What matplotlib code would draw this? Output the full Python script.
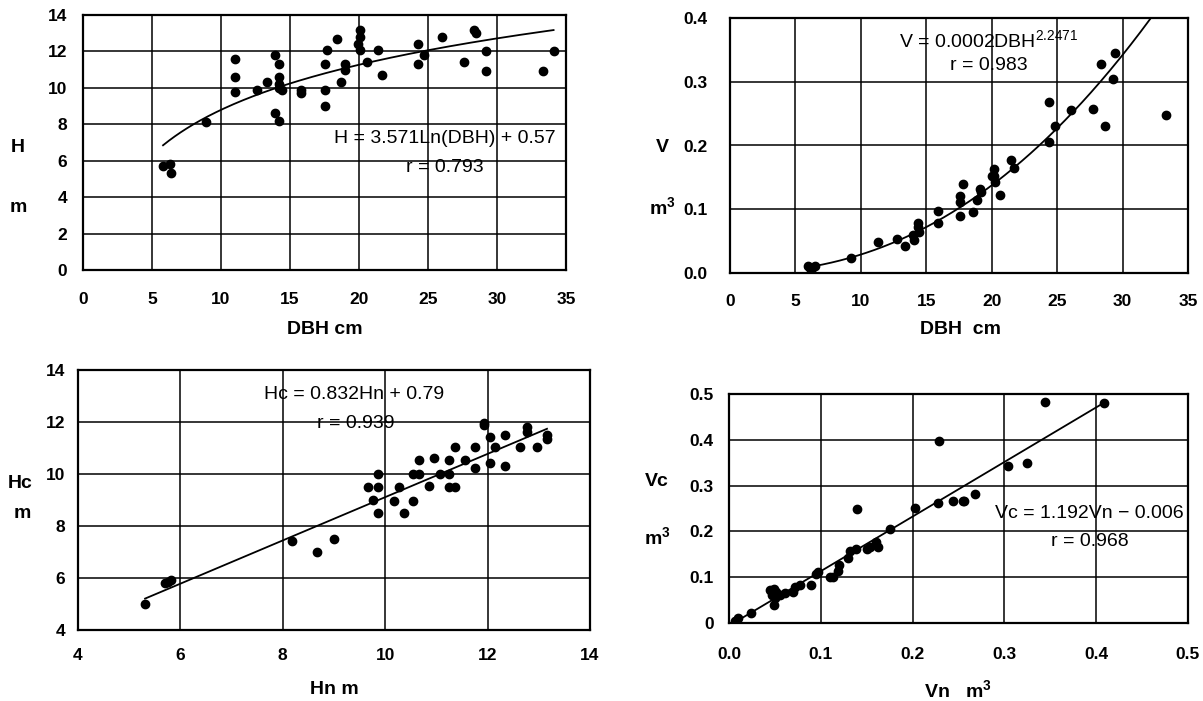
import numpy as np
import matplotlib
matplotlib.use("Agg")
import matplotlib.pyplot as plt

plt.rcParams['font.family'] = ['Liberation Sans', 'DejaVu Sans']
plt.rcParams['mathtext.fontset'] = 'custom'
plt.rcParams['mathtext.rm'] = 'Liberation Sans'
plt.rcParams['mathtext.it'] = 'Liberation Sans:italic'
plt.rcParams['mathtext.bf'] = 'Liberation Sans:bold'

# ---------------- data ----------------
# Panel 1: H vs DBH
dbh1 = [5.8, 6.3, 6.4, 8.9, 11.0, 11.0, 11.0, 12.6, 13.3, 13.9, 13.9, 14.2, 14.2, 14.2, 14.2,
        14.4, 14.2, 15.8, 15.8, 17.5, 17.5, 17.5, 17.7, 18.4, 18.7, 19.0, 19.0, 19.9, 20.1, 20.1,
        20.1, 20.6, 21.4, 21.7, 24.3, 24.3, 24.7, 26.0, 27.6, 28.3, 28.5, 29.2, 29.2, 33.3, 34.1]
h1 = [5.7, 5.8, 5.3, 8.1, 11.6, 10.6, 9.8, 9.9, 10.3, 11.8, 8.6, 11.3, 10.6, 10.2, 10.0,
      9.9, 8.2, 9.9, 9.7, 11.3, 9.9, 9.0, 12.1, 12.7, 10.3, 11.3, 11.0, 12.4, 13.2, 12.8,
      12.1, 11.4, 12.1, 10.7, 12.4, 11.3, 11.8, 12.8, 11.4, 13.2, 13.0, 12.0, 10.9, 10.9, 12.0]
h_fit_a, h_fit_b = 3.571, 0.57          # H = a*ln(DBH) + b

# Panel 2: V vs DBH
dbh2 = [5.96, 6.1, 6.26, 6.52, 9.21, 11.34, 12.76, 13.39, 14.02, 14.08, 14.38, 14.38, 14.46,
        15.9, 15.9, 17.58, 17.58, 17.58, 17.83, 18.59, 18.84, 19.1, 19.15, 20.04, 20.16, 20.2,
        20.24, 20.62, 21.48, 21.73, 24.35, 24.35, 24.8, 26.07, 27.72, 28.35, 28.66, 29.29,
        29.42, 33.3]
v2 = [0.0105, 0.008, 0.0078, 0.0105, 0.0235, 0.048, 0.053, 0.043, 0.059, 0.051, 0.078, 0.072,
      0.065, 0.097, 0.079, 0.121, 0.112, 0.089, 0.139, 0.095, 0.114, 0.132, 0.127, 0.152,
      0.163, 0.152, 0.142, 0.122, 0.178, 0.165, 0.269, 0.205, 0.230, 0.256, 0.257, 0.328,
      0.231, 0.305, 0.345, 0.248]
v_fit_a, v_fit_b = 0.000164, 2.2471     # V = a*DBH^b (unrounded coefficient)

# Panel 3: Hc vs Hn
hn3 = [5.31, 5.70, 5.75, 5.82, 8.18, 8.67, 9.0, 9.67, 9.77, 9.86, 9.86, 9.86, 10.17, 10.26,
       10.37, 10.55, 10.55, 10.66, 10.66, 10.86, 10.96, 11.07, 11.25, 11.25, 11.25, 11.37,
       11.37, 11.55, 11.76, 11.76, 11.93, 11.93, 12.05, 12.05, 12.14, 12.34, 12.34, 12.64,
       12.76, 12.76, 12.96, 13.16, 13.16]
hc3 = [5.0, 5.79, 5.83, 5.92, 7.44, 7.01, 7.49, 9.51, 9.0, 10.0, 9.51, 8.51, 8.97, 9.49,
       8.51, 8.97, 10.0, 10.54, 10.0, 9.54, 10.6, 10.0, 10.54, 10.0, 9.51, 9.51,
       11.03, 10.54, 11.03, 10.22, 11.97, 11.88, 11.41, 10.44, 11.03, 11.5, 10.31, 11.03,
       11.82, 11.63, 11.03, 11.5, 11.33]
hc_fit_a, hc_fit_b = 0.832, 0.79

# Panel 4: Vc vs Vn
vn4 = [0.007, 0.0095, 0.0243, 0.0446, 0.047, 0.0486, 0.0486, 0.0497, 0.0509, 0.0556, 0.0615,
       0.0693, 0.072, 0.0771, 0.0897, 0.0948, 0.0967, 0.1104, 0.1132, 0.1182, 0.1202, 0.1292,
       0.1319, 0.1378, 0.1398, 0.1507, 0.1535, 0.1605, 0.1621, 0.175, 0.2024, 0.2279, 0.229,
       0.2443, 0.2545, 0.2565, 0.2682, 0.3042, 0.325, 0.3442, 0.408]
vc4 = [0.005, 0.011, 0.0215, 0.0717, 0.061, 0.0753, 0.0395, 0.055, 0.068, 0.061, 0.0646,
       0.068, 0.079, 0.0825, 0.0825, 0.1076, 0.111, 0.1004, 0.1004, 0.1133, 0.127, 0.1413,
       0.158, 0.1614, 0.249, 0.1614, 0.167, 0.1758, 0.165, 0.2045, 0.251, 0.2618, 0.3967,
       0.2654, 0.2669, 0.2669, 0.2819, 0.3422, 0.3494, 0.4828, 0.4806]
vc_fit_a, vc_fit_b = 1.192, -0.006

ticks1_x = [0, 5, 10, 15, 20, 25, 30, 35]
ticks1_y = [0, 2, 4, 6, 8, 10, 12, 14]
ticks2_y = [0.0, 0.1, 0.2, 0.3, 0.4]
ticks3 = [4, 6, 8, 10, 12, 14]
ticks4 = [0.0, 0.1, 0.2, 0.3, 0.4, 0.5]
ticks4_ylabels = ["0", "0.1", "0.2", "0.3", "0.4", "0.5"]

# ---------------- layout ----------------
W, H = 1203, 701
fig = plt.figure(figsize=(W / 100, H / 100), dpi=100)
fig.patch.set_facecolor('white')


def add_ax(l, t, r, b):
    return fig.add_axes([l / W, 1 - b / H, (r - l) / W, (b - t) / H])


def px(x, y):
    return x / W, 1 - y / H


TICK_FS = 12.5
LAB_FS = 14
EQ_FS = 14


def style(ax, xt, yt, xpad, ypad, xlabels=None, ylabels=None):
    ax.set_xticks(xt)
    ax.set_yticks(yt)
    if xlabels is not None:
        ax.set_xticklabels(xlabels)
    if ylabels is not None:
        ax.set_yticklabels(ylabels)
    ax.set_xlim(xt[0], xt[-1])
    ax.set_ylim(yt[0], yt[-1])
    ax.grid(True, color='black', linewidth=1.1)
    ax.set_axisbelow(True)
    ax.tick_params(axis='x', length=0, pad=xpad, labelsize=TICK_FS)
    ax.tick_params(axis='y', length=0, pad=ypad, labelsize=TICK_FS)
    for lab in ax.get_xticklabels() + ax.get_yticklabels():
        lab.set_fontweight('bold')
    for s in ax.spines.values():
        s.set_linewidth(1.6)
        s.set_color('black')


MS = 6
LW = 1.3

# Panel 1
ax1 = add_ax(83, 15, 566, 270)
style(ax1, ticks1_x, ticks1_y, 15.5, 11.5)
ax1.plot(dbh1, h1, 'o', color='black', markersize=MS)
x1 = np.linspace(min(dbh1), max(dbh1), 200)
ax1.plot(x1, h_fit_a * np.log(x1) + h_fit_b, color='black', linewidth=LW)
ax1.text(26.2, 7.23, "H = 3.571Ln(DBH) + 0.57", ha='center', va='center', fontsize=EQ_FS)
ax1.text(26.2, 5.64, "r = 0.793", ha='center', va='center', fontsize=EQ_FS)
fig.text(*px(18, 148), "H", ha='center', va='center', fontsize=LAB_FS, fontweight='bold')
fig.text(*px(18, 207), "m", ha='center', va='center', fontsize=LAB_FS, fontweight='bold')
fig.text(*px(325, 329), "DBH cm", ha='center', va='center', fontsize=LAB_FS, fontweight='bold')

# Panel 2
ax2 = add_ax(730, 18, 1188, 273)
style(ax2, ticks1_x, ticks2_y, 14.8, 16, ylabels=[f"{v:.1f}" for v in ticks2_y])
ax2.plot(dbh2, v2, 'o', color='black', markersize=MS)
x2 = np.linspace(min(dbh2) - 0.2, 34, 300)
ax2.plot(x2, v_fit_a * x2 ** v_fit_b, color='black', linewidth=LW)
ax2.text(19.8, 0.366, r"V = 0.0002DBH$^{2.2471}$", ha='center', va='center', fontsize=EQ_FS)
ax2.text(19.8, 0.325, "r = 0.983", ha='center', va='center', fontsize=EQ_FS)
fig.text(*px(662, 148), "V", ha='center', va='center', fontsize=LAB_FS, fontweight='bold')
fig.text(*px(662, 207), r"m$^{\mathbf{3}}$", ha='center', va='center', fontsize=LAB_FS,
         fontweight='bold')
fig.text(*px(960, 329), "DBH  cm", ha='center', va='center', fontsize=LAB_FS, fontweight='bold')

# Panel 3
ax3 = add_ax(78, 370, 590, 630)
style(ax3, ticks3, ticks3, 13.3, 9)
ax3.plot(hn3, hc3, 'o', color='black', markersize=MS)
x3 = np.array([min(hn3), max(hn3)])
ax3.plot(x3, hc_fit_a * x3 + hc_fit_b, color='black', linewidth=LW)
ax3.text(9.39, 13.04, "Hc = 0.832Hn + 0.79", ha='center', va='center', fontsize=EQ_FS)
ax3.text(9.42, 11.95, "r = 0.939", ha='center', va='center', fontsize=EQ_FS)
fig.text(*px(20, 483), "Hc", ha='center', va='center', fontsize=LAB_FS, fontweight='bold')
fig.text(*px(22, 513), "m", ha='center', va='center', fontsize=LAB_FS, fontweight='bold')
fig.text(*px(334, 689), "Hn m", ha='center', va='center', fontsize=LAB_FS, fontweight='bold')

# Panel 4
ax4 = add_ax(729, 394, 1188, 623)
style(ax4, ticks4, ticks4, 17, 11, xlabels=[f"{v:.1f}" for v in ticks4], ylabels=ticks4_ylabels)
ax4.plot(vn4, vc4, 'o', color='black', markersize=MS)
x4 = np.array([min(vn4), max(vn4)])
ax4.plot(x4, vc_fit_a * x4 + vc_fit_b, color='black', linewidth=LW)
ax4.text(0.392, 0.238, "Vc = 1.192Vn \u2212 0.006", ha='center', va='center', fontsize=EQ_FS,
         clip_on=False)
ax4.text(0.393, 0.179, "r = 0.968", ha='center', va='center', fontsize=EQ_FS)
fig.text(*px(657, 482), "Vc", ha='center', va='center', fontsize=LAB_FS, fontweight='bold')
fig.text(*px(657, 537), r"m$^{\mathbf{3}}$", ha='center', va='center', fontsize=LAB_FS,
         fontweight='bold')
fig.text(*px(958, 690), r"Vn   m$^{\mathbf{3}}$", ha='center', va='center', fontsize=LAB_FS,
         fontweight='bold')

fig.savefig("out.png", dpi=100, facecolor='white')
